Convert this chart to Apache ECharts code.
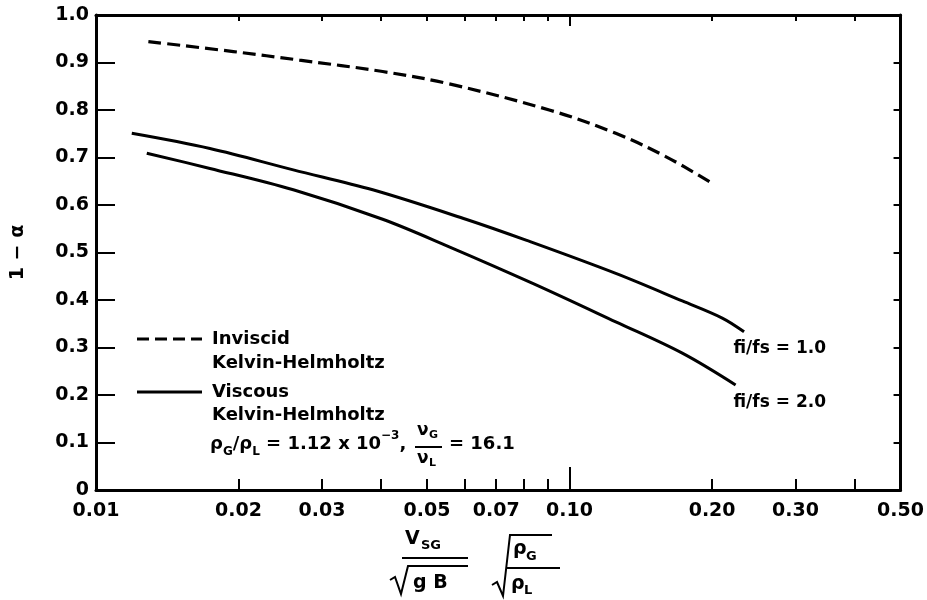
<!DOCTYPE html>
<html><head><meta charset="utf-8">
<script src="https://cdn.jsdelivr.net/npm/echarts@6/dist/echarts.min.js"></script>
<style>html,body{margin:0;padding:0;background:#fff}#c{width:927px;height:600px}</style>
</head><body><div id="c"></div>
<script>
// ---- data ----
const xLabelValues = [0.01, 0.02, 0.03, 0.05, 0.07, 0.10, 0.20, 0.30, 0.50];
const xTickValues = [0.02, 0.03, 0.04, 0.05, 0.06, 0.07, 0.08, 0.09, 0.10, 0.20, 0.30, 0.40];
const xLongTickValues = [0.10];
const invisX = [0.0129, 0.0195, 0.0269, 0.0403, 0.0557, 0.0906, 0.1252, 0.1596, 0.200];
const invisY = [0.944, 0.923, 0.905, 0.881, 0.855, 0.800, 0.751, 0.702, 0.646];
const visc1X = [0.0119, 0.0174, 0.0261, 0.0384, 0.0604, 0.0809, 0.1252, 0.173, 0.2101, 0.2336];
const visc1Y = [0.751, 0.719, 0.674, 0.632, 0.570, 0.526, 0.456, 0.398, 0.362, 0.333];
const visc2X = [0.0128, 0.0174, 0.0261, 0.0403, 0.0557, 0.0836, 0.1252, 0.173, 0.2242];
const visc2Y = [0.709, 0.677, 0.632, 0.570, 0.512, 0.435, 0.354, 0.288, 0.221];
const seriesNames = ['Inviscid Kelvin-Helmholtz', 'Viscous Kelvin-Helmholtz fi/fs = 1.0', 'Viscous Kelvin-Helmholtz fi/fs = 2.0'];

const FONT = 'DejaVu Sans';
const pairs = (xs, ys) => xs.map((x, i) => [x, ys[i]]);

const chart = echarts.init(document.getElementById('c'));
const txt = (text, x, y, size, extra) => Object.assign({
  type: 'text', silent: true,
  style: Object.assign({text: text, x: x, y: y, fontSize: size, fontWeight: 'bold', fontFamily: FONT, fill: '#000', align: 'left', verticalAlign: 'middle'}, extra || {})
});
const seg = (pts, w, dash) => ({
  type: 'polyline', silent: true,
  shape: {points: pts},
  style: {stroke: '#000', lineWidth: w, fill: null, lineDash: dash || null}
});

const baseX = {
  type: 'log', logBase: 10, min: 0.01, max: 0.5, gridIndex: 0,
  splitLine: {show: false}, minorTick: {show: false}
};

chart.setOption({
  animation: false,
  backgroundColor: '#fff',
  grid: {left: 96, right: 25, top: 15, bottom: 110, containLabel: false},
  xAxis: [
    Object.assign({}, baseX, {
      position: 'bottom',
      axisLine: {show: true, onZero: false, lineStyle: {color: '#000', width: 3}},
      axisTick: {show: true, inside: true, length: 11, lineStyle: {color: '#000', width: 2}, customValues: xTickValues},
      axisLabel: {show: true, customValues: xLabelValues, margin: 12, color: '#000', fontFamily: FONT, fontWeight: 'bold', fontSize: 19,
        formatter: v => Number(v).toFixed(2)}
    }),
    Object.assign({}, baseX, {
      position: 'top',
      axisLine: {show: true, onZero: false, lineStyle: {color: '#000', width: 3}},
      axisTick: {show: true, inside: true, length: 6, lineStyle: {color: '#000', width: 2}, customValues: xTickValues},
      axisLabel: {show: false}
    }),
    Object.assign({}, baseX, {
      position: 'bottom',
      axisLine: {show: false, onZero: false},
      axisTick: {show: true, inside: true, length: 23, lineStyle: {color: '#000', width: 2}, customValues: xLongTickValues},
      axisLabel: {show: false}
    }),
    Object.assign({}, baseX, {
      position: 'top',
      axisLine: {show: false, onZero: false},
      axisTick: {show: true, inside: true, length: 11, lineStyle: {color: '#000', width: 2}, customValues: xLongTickValues},
      axisLabel: {show: false}
    })
  ],
  yAxis: [
    {
      type: 'value', min: 0, max: 1, interval: 0.1, position: 'left',
      name: '1 − α', nameLocation: 'middle', nameRotate: 90, nameGap: 68,
      nameTextStyle: {color: '#000', fontFamily: FONT, fontWeight: 'bold', fontSize: 19},
      splitLine: {show: false},
      axisLine: {show: true, onZero: false, lineStyle: {color: '#000', width: 3}},
      axisTick: {show: true, inside: true, length: 19, lineStyle: {color: '#000', width: 2}},
      axisLabel: {color: '#000', fontFamily: FONT, fontWeight: 'bold', fontSize: 19, margin: 7,
        formatter: v => v === 0 ? '0' : v.toFixed(1)}
    },
    {
      type: 'value', min: 0, max: 1, interval: 0.1, position: 'right',
      splitLine: {show: false},
      axisLine: {show: true, onZero: false, lineStyle: {color: '#000', width: 3}},
      axisTick: {show: true, inside: true, length: 7, lineStyle: {color: '#000', width: 2}},
      axisLabel: {show: false}
    }
  ],
  series: [
    {name: seriesNames[0], type: 'line', xAxisIndex: 0, yAxisIndex: 0, data: pairs(invisX, invisY),
      smooth: 0.35, showSymbol: false, symbol: 'none',
      lineStyle: {color: '#000', width: 3.2, type: [13, 6], cap: 'butt'}},
    {name: seriesNames[1], type: 'line', xAxisIndex: 0, yAxisIndex: 0, data: pairs(visc1X, visc1Y),
      smooth: 0.35, showSymbol: false, symbol: 'none',
      lineStyle: {color: '#000', width: 3, type: 'solid'}},
    {name: seriesNames[2], type: 'line', xAxisIndex: 0, yAxisIndex: 0, data: pairs(visc2X, visc2Y),
      smooth: 0.35, showSymbol: false, symbol: 'none',
      lineStyle: {color: '#000', width: 3, type: 'solid'}}
  ],
  graphic: [
    // legend
    seg([[137, 339], [202, 339]], 3, [12, 6]),
    txt('Inviscid', 212, 339, 18),
    txt('Kelvin-Helmholtz', 212, 363, 18),
    seg([[137, 392], [202, 392]], 3),
    txt('Viscous', 212, 392, 18),
    txt('Kelvin-Helmholtz', 212, 415, 18),
    {
      type: 'text', silent: true,
      style: {
        x: 210, y: 444, verticalAlign: 'middle', align: 'left', fill: '#000',
        text: '{m|ρ}{s|G}{m|/ρ}{s|L}{m| = 1.12 x 10}{p|−3}{m|,}',
        rich: {
          m: {fontSize: 18, fontWeight: 'bold', fontFamily: FONT, lineHeight: 28, fill: '#000'},
          s: {fontSize: 12, fontWeight: 'bold', fontFamily: FONT, lineHeight: 28, verticalAlign: 'bottom', fill: '#000'},
          p: {fontSize: 12, fontWeight: 'bold', fontFamily: FONT, lineHeight: 28, verticalAlign: 'top', fill: '#000'}
        }
      }
    },
    txt('ν', 417, 431, 17),
    txt('G', 429, 435, 11),
    seg([[415, 447], [442, 447]], 2),
    txt('ν', 417, 459, 17),
    txt('L', 429, 463, 11),
    txt('= 16.1', 449, 444, 18),
    // curve labels
    txt('fi/fs = 1.0', 826, 349, 17, {align: 'right'}),
    txt('fi/fs = 2.0', 826, 403, 17, {align: 'right'}),
    // x-axis name: V_SG / sqrt(gB) * sqrt(rho_G / rho_L)
    txt('V', 405, 539, 19),
    txt('SG', 421, 546, 13),
    seg([[402, 558], [468, 558]], 2),
    seg([[390, 580], [395, 577], [401, 594], [408, 566], [468, 566]], 2),
    txt('g B', 413, 583, 19),
    seg([[492, 585], [497, 582], [503, 596], [510, 535], [552, 535]], 2),
    txt('ρ', 513, 549, 19),
    txt('G', 526, 557, 13),
    seg([[506, 568], [560, 568]], 2),
    txt('ρ', 511, 584, 19),
    txt('L', 524, 591, 13)
  ]
});
</script>
</body></html>
